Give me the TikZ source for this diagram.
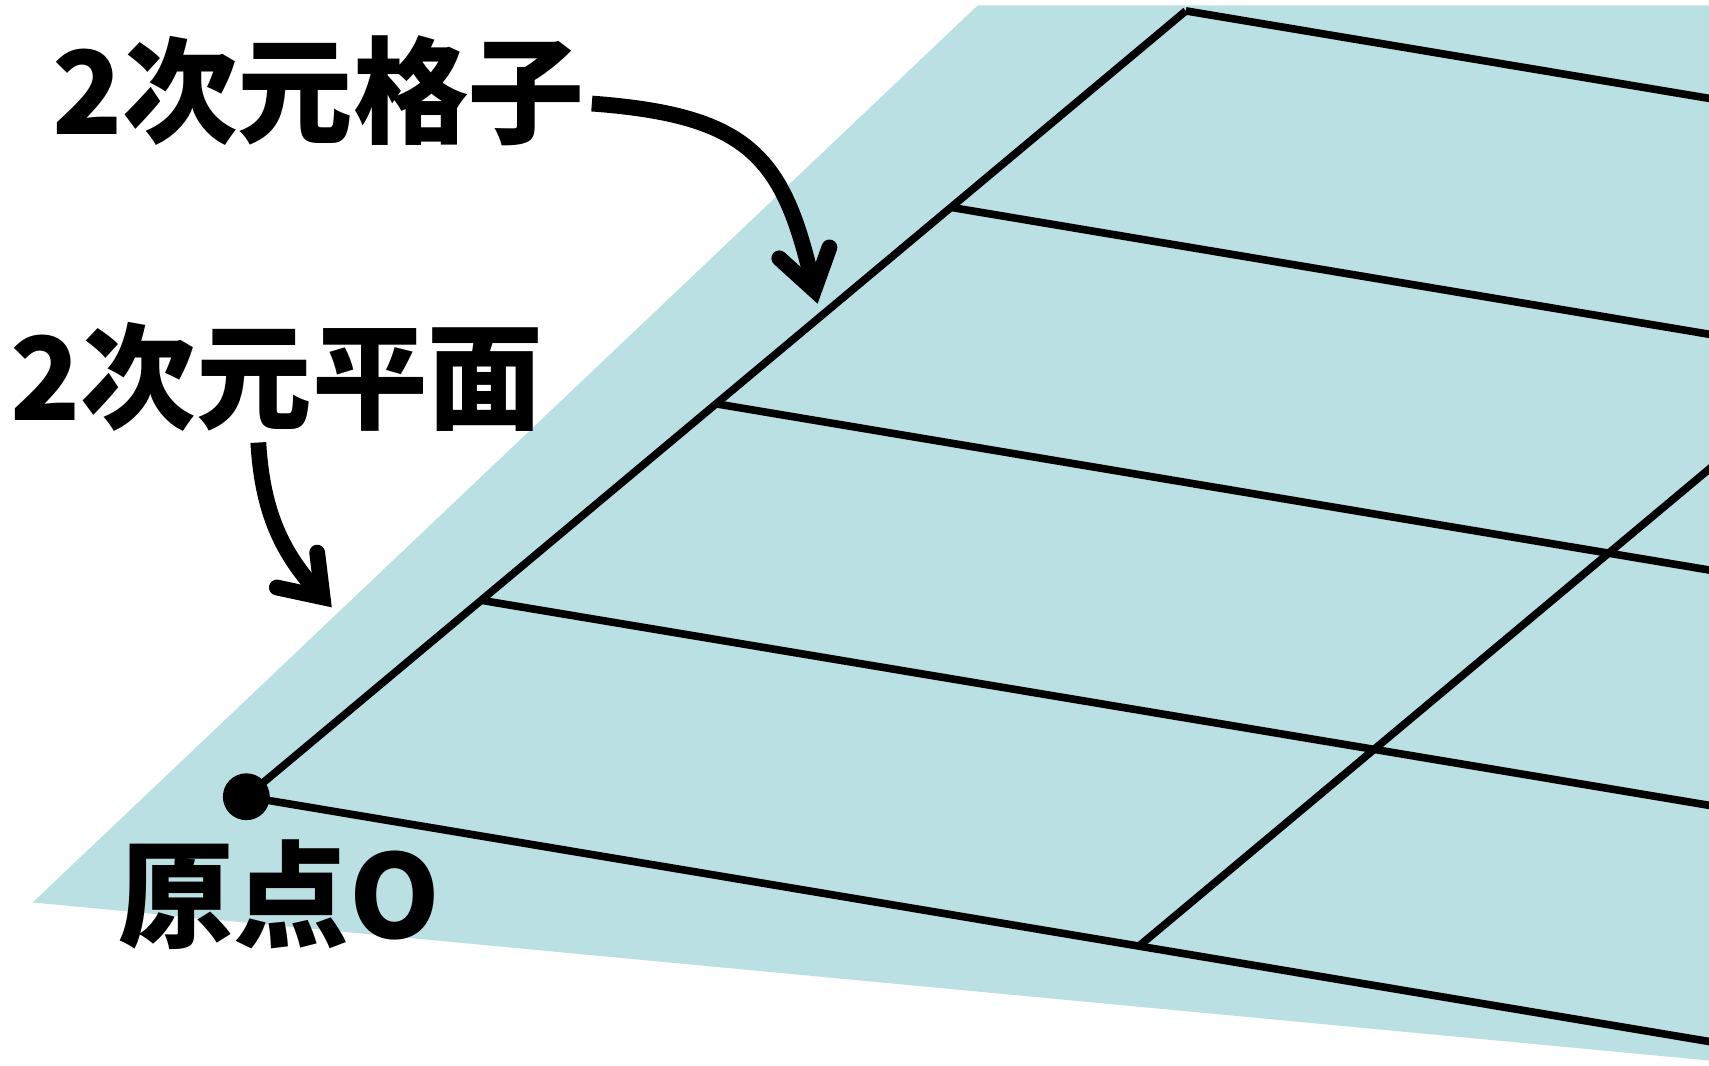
\documentclass[tikz,border=0pt]{standalone}
\usepackage{fontspec}
\newfontfamily\jp{Noto Sans CJK JP}[BoldFont={* Black}]
\definecolor{planecol}{RGB}{187,224,227}
\begin{document}
\begin{tikzpicture}[x=1pt,y=-1pt]
\tikzset{
  grid line/.style={line width=7pt},
  callout/.style={line width=14.5pt},
  barb/.style={line width=14.5pt, line cap=round, line join=miter, miter limit=10},
  lbl/.style={font=\jp\bfseries\fontsize{106}{110}\selectfont, inner sep=0pt}
}
\useasboundingbox (0,0) rectangle (1568,978);
% plane
\fill[planecol] (897,5) -- (1568,5) -- (1568,973) -- (30,828) -- cycle;
% lattice points
\coordinate (P0) at (226,731);
\coordinate (P1) at (441.5,550.75);
\coordinate (P2) at (657,370.5);
\coordinate (P3) at (872.5,190.25);
\coordinate (P4) at (1088,10);
\coordinate (Q0) at (1045,868);
% far ends (beyond right edge)
\coordinate (R0) at (1600,960.9);
\coordinate (R1) at (1600,744.2);
\coordinate (R2) at (1600,528.3);
\coordinate (R3) at (1600,312.0);
\coordinate (R4) at (1600,95.6);
\coordinate (S)  at (1600,403.7);
% lattice lines
\draw[grid line] (P0) -- (P4);
\draw[grid line] (Q0) -- (S);
\draw[grid line] (P0) -- (R0);
\draw[grid line] (P1) -- (R1);
\draw[grid line] (P2) -- (R2);
\draw[grid line] (P3) -- (R3);
\draw[grid line] (P4) -- (R4);
% origin dot
\fill (P0) circle (21.5pt);
% labels
\node[lbl] (lat) at (292,83) {2次元格子};
\node[lbl] (pla) at (254,346) {2次元平面};
\node[lbl] (ori) at (256,821) {原点O};
% callout arrows
\coordinate (a1s) at (543,95);
\coordinate (a1t) at (747,266);
\draw[callout] (a1s) .. controls (690,106) and (720,145) .. (a1t);
\draw[barb] (715,237) -- (a1t) -- (761,227);
\coordinate (a2s) at (237,406);
\coordinate (a2t) at (296,548);
\draw[callout] (a2s) .. controls (241,475) and (262,512) .. (a2t);
\draw[barb] (254,539) -- (a2t) -- (291,507);
\end{tikzpicture}
\end{document}
